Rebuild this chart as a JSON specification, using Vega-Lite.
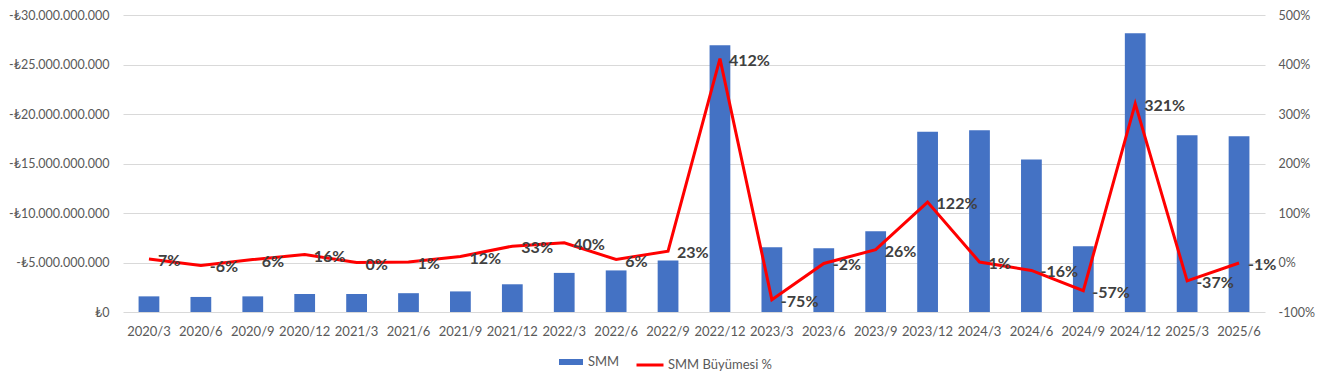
{
  "$schema": "https://vega.github.io/schema/vega-lite/v6.json",
  "autosize": {"type": "none"},
  "width": 1142,
  "height": 297,
  "padding": {"left": 123, "top": 15, "right": 58, "bottom": 69},
  "background": "white",
  "config": {
    "locale": {"number": {"decimal": ",", "thousands": ".", "grouping": [3], "currency": ["₺", ""], "minus": "-", "percent": "%"}},
    "view": {"stroke": null},
    "font": "Lato",
    "axis": {"labelFont": "Lato", "labelColor": "#595959", "labelFontSize": 12.5, "domain": false, "ticks": false, "title": null},
    "legend": {"labelFont": "Lato", "labelColor": "#595959", "labelFontSize": 13, "padding": 0, "title": null}
  },
  "data": {"values": [
    {"period": "2020/3", "smm": -1580000000, "growth": 0.07},
    {"period": "2020/6", "smm": -1520000000, "growth": -0.06},
    {"period": "2020/9", "smm": -1580000000, "growth": 0.06},
    {"period": "2020/12", "smm": -1820000000, "growth": 0.16},
    {"period": "2021/3", "smm": -1820000000, "growth": 0.00},
    {"period": "2021/6", "smm": -1900000000, "growth": 0.01},
    {"period": "2021/9", "smm": -2080000000, "growth": 0.12},
    {"period": "2021/12", "smm": -2800000000, "growth": 0.33},
    {"period": "2022/3", "smm": -3950000000, "growth": 0.40},
    {"period": "2022/6", "smm": -4200000000, "growth": 0.06},
    {"period": "2022/9", "smm": -5200000000, "growth": 0.23},
    {"period": "2022/12", "smm": -26950000000, "growth": 4.12},
    {"period": "2023/3", "smm": -6550000000, "growth": -0.75},
    {"period": "2023/6", "smm": -6450000000, "growth": -0.02},
    {"period": "2023/9", "smm": -8150000000, "growth": 0.26},
    {"period": "2023/12", "smm": -18200000000, "growth": 1.22},
    {"period": "2024/3", "smm": -18350000000, "growth": 0.01},
    {"period": "2024/6", "smm": -15400000000, "growth": -0.16},
    {"period": "2024/9", "smm": -6650000000, "growth": -0.57},
    {"period": "2024/12", "smm": -28150000000, "growth": 3.21},
    {"period": "2025/3", "smm": -17850000000, "growth": -0.37},
    {"period": "2025/6", "smm": -17750000000, "growth": -0.01}
  ]},
  "encoding": {
    "x": {
      "field": "period", "type": "nominal", "sort": null,
      "scale": {"paddingInner": 0.6, "paddingOuter": 0.3},
      "axis": {"labelAngle": 0, "labelPadding": 13, "grid": false, "labelFontSize": 13}
    }
  },
  "layer": [
    {
      "mark": {"type": "bar", "color": "#4472C4"},
      "encoding": {
        "y": {
          "field": "smm", "type": "quantitative",
          "scale": {"domain": [-30000000000, 0], "reverse": true, "nice": false, "zero": false},
          "axis": {"values": [-30000000000, -25000000000, -20000000000, -15000000000, -10000000000, -5000000000, 0], "format": "$,.0f", "grid": true, "gridColor": "#D9D9D9", "gridWidth": 1, "labelPadding": 14}
        },
        "color": {
          "datum": "SMM",
          "scale": {"range": ["#4472C4"]},
          "legend": {"orient": "none", "legendX": 436, "legendY": 335, "symbolType": "M-1,-0.25H1V0.25H-1Z", "symbolSize": 576, "symbolStrokeWidth": 0, "labelOffset": 5, "direction": "horizontal"}
        }
      }
    },
    {
      "encoding": {
        "y": {
          "field": "growth", "type": "quantitative",
          "scale": {"domain": [-1, 5], "nice": false},
          "axis": {"orient": "right", "values": [-1, 0, 1, 2, 3, 4, 5], "format": ".0%", "grid": false, "labelPadding": 13}
        }
      },
      "layer": [
        {
          "mark": {"type": "line", "color": "#FF0000", "strokeWidth": 3},
          "encoding": {
            "color": {
              "datum": "SMM Büyümesi %",
              "scale": {"range": ["#FF0000"]},
              "legend": {"orient": "none", "legendX": 512, "legendY": 335, "symbolType": "stroke", "symbolSize": 729, "symbolStrokeWidth": 3, "labelOffset": 3, "direction": "horizontal"}
            }
          }
        },
        {
          "mark": {"type": "text", "align": "left", "baseline": "middle", "dx": 9, "dy": 2, "fontSize": 16, "fontWeight": "bold", "color": "#404040", "font": "Lato"},
          "encoding": {
            "text": {"field": "growth", "type": "quantitative", "format": ".0%"}
          }
        }
      ]
    }
  ],
  "resolve": {"scale": {"y": "independent", "color": "independent"}}
}
